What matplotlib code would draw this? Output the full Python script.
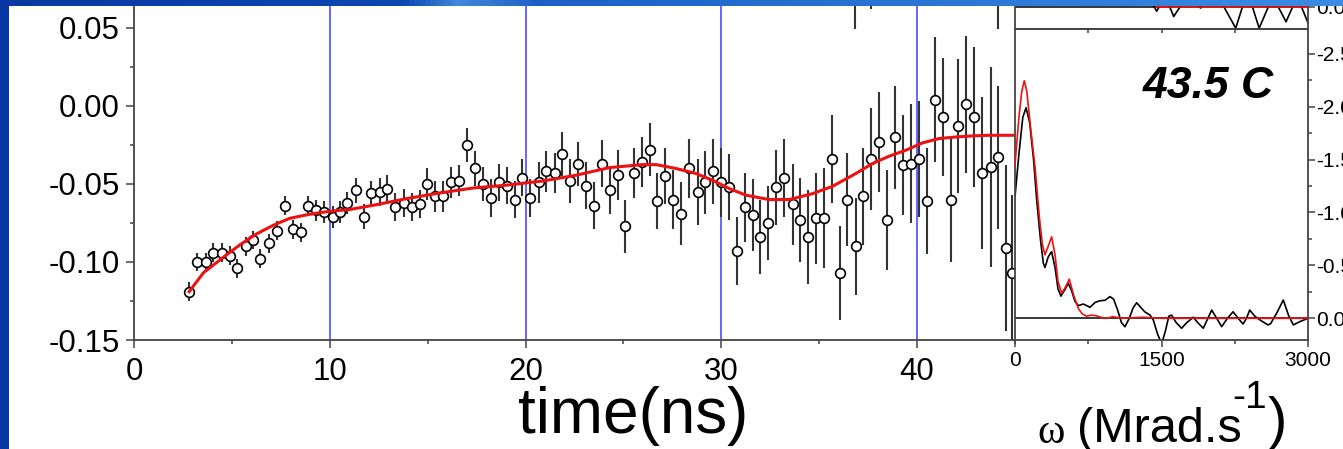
import numpy as np
import matplotlib
matplotlib.use('Agg')
import matplotlib.pyplot as plt
from matplotlib.colors import LinearSegmentedColormap
from matplotlib.ticker import MultipleLocator, FormatStrFormatter

plt.rcParams['font.family'] = ['Liberation Sans', 'DejaVu Sans']
plt.rcParams['axes.unicode_minus'] = False

# time domain data (ns) with error bars
t = [2.82, 3.20, 3.66, 4.05, 4.47, 4.90, 5.27, 5.71, 6.09, 6.46, 6.89, 7.28, 7.70, 8.10, 8.52,
     8.90, 9.32, 9.71, 10.14, 10.54, 10.88, 11.33, 11.75, 12.13, 12.55, 12.94, 13.35, 13.78, 14.18, 14.59,
     14.98, 15.39, 15.80, 16.17, 16.60, 17.02, 17.40, 17.82, 18.25, 18.64, 19.05, 19.45, 19.83, 20.24, 20.68,
     21.06, 21.48, 21.87, 22.28, 22.70, 23.09, 23.52, 23.91, 24.32, 24.71, 25.10, 25.53, 25.96, 26.36, 26.73,
     27.12, 27.52, 27.94, 28.37, 28.79, 29.18, 29.59, 29.98, 30.41, 30.80, 31.21, 31.60, 31.99, 32.40, 32.79,
     33.21, 33.64, 34.03, 34.45, 34.83, 35.26, 35.65, 36.06, 36.44, 36.87, 37.26, 37.67, 38.06, 38.48, 38.88,
     39.29, 39.68, 40.10, 40.49, 40.90, 41.33, 41.72, 42.10, 42.52, 42.91, 43.33, 43.76, 44.15, 44.56, 44.87]
signal = [-0.119, -0.100, -0.100, -0.094, -0.094, -0.096, -0.104, -0.090, -0.086, -0.098, -0.088, -0.080, -0.064, -0.079, -0.081,
          -0.064, -0.067, -0.068, -0.071, -0.068, -0.062, -0.054, -0.071, -0.056, -0.055, -0.053, -0.065, -0.062, -0.065, -0.063,
          -0.050, -0.058, -0.058, -0.049, -0.048, -0.025, -0.040, -0.050, -0.059, -0.049, -0.051, -0.060, -0.046, -0.059, -0.049,
          -0.042, -0.043, -0.031, -0.048, -0.037, -0.051, -0.064, -0.037, -0.054, -0.044, -0.077, -0.043, -0.036, -0.028, -0.061,
          -0.045, -0.060, -0.069, -0.040, -0.055, -0.049, -0.042, -0.049, -0.052, -0.093, -0.065, -0.070, -0.084, -0.075, -0.052,
          -0.046, -0.063, -0.073, -0.084, -0.072, -0.072, -0.034, -0.107, -0.060, -0.090, -0.058, -0.034, -0.023, -0.073, -0.020,
          -0.038, -0.037, -0.034, -0.061, 0.004, -0.007, -0.060, -0.013, 0.001, -0.007, -0.043, -0.039, -0.033, -0.091, -0.107]
err = [0.006, 0.006, 0.006, 0.006, 0.006, 0.006, 0.006, 0.006, 0.006, 0.006, 0.006, 0.006, 0.006, 0.006, 0.006,
       0.006, 0.007, 0.007, 0.007, 0.007, 0.007, 0.008, 0.008, 0.008, 0.009, 0.009, 0.009, 0.009, 0.009, 0.009,
       0.010, 0.010, 0.010, 0.010, 0.010, 0.011, 0.011, 0.011, 0.012, 0.012, 0.012, 0.012, 0.012, 0.012, 0.013,
       0.013, 0.013, 0.014, 0.014, 0.014, 0.015, 0.015, 0.015, 0.015, 0.016, 0.017, 0.016, 0.016, 0.017, 0.018,
       0.018, 0.019, 0.020, 0.019, 0.021, 0.020, 0.021, 0.022, 0.021, 0.022, 0.022, 0.023, 0.024, 0.024, 0.024,
       0.025, 0.026, 0.027, 0.030, 0.029, 0.032, 0.028, 0.030, 0.030, 0.031, 0.031, 0.033, 0.032, 0.032, 0.033,
       0.032, 0.038, 0.037, 0.034, 0.040, 0.038, 0.040, 0.043, 0.044, 0.045, 0.049, 0.064, 0.046, 0.053, 0.050]

# fit curve
fit_t = [2.82, 3.54, 4.56, 5.41, 6.26, 7.11, 7.96, 8.98, 10.0, 11.0, 12.21, 13.92, 15.61, 17.31, 19.0,
         20.88, 22.58, 24.29, 25.99, 26.67, 27.69, 28.7, 29.55, 30.41, 31.26, 32.45, 33.47, 34.66, 35.68,
         36.87, 37.72, 38.57, 39.42, 40.27, 41.12, 41.97, 42.82, 43.67, 45.0]
fit_y = [-0.119, -0.107, -0.097, -0.089, -0.082, -0.0765, -0.072, -0.0694, -0.0675, -0.0664, -0.0637, -0.0594,
         -0.0558, -0.0526, -0.0508, -0.0481, -0.0444, -0.0395, -0.0376, -0.0376, -0.0401, -0.0433, -0.0476,
         -0.053, -0.0572, -0.060, -0.060, -0.0562, -0.0515, -0.0433, -0.0369, -0.0322, -0.0284, -0.0237,
         -0.0209, -0.0199, -0.0192, -0.0188, -0.0188]

# error bars of the panel above that reach into this one
top_t = [36.84, 37.65, 44.13]
top_lo = [0.049, 0.062, 0.049]

# spectrum (inset), omega in Mrad/s
w_data = [0, 40, 80, 113, 150, 190, 222, 260, 290, 307, 340, 375, 410, 440, 470, 510, 546, 580, 614, 650,
          700, 768, 820, 870, 920, 973, 1010, 1050, 1090, 1126, 1170, 1210, 1246, 1290, 1330, 1382, 1416,
          1460, 1502, 1540, 1575, 1604, 1650, 1706, 1760, 1826, 1870, 1928, 1970, 2014, 2065, 2116, 2175,
          2233, 2285, 2335, 2370, 2403, 2455, 2509, 2550, 2591, 2618, 2680, 2747, 2800, 2850, 2920, 3000]
s_data = [-1.15, -1.55, -1.9, -1.99, -1.85, -1.5, -1.12, -0.75, -0.52, -0.48, -0.58, -0.63, -0.48, -0.28,
          -0.21, -0.27, -0.33, -0.26, -0.16, -0.12, -0.135, -0.104, -0.15, -0.166, -0.17, -0.205, -0.18,
          -0.08, 0.04, 0.08, 0.0, -0.1, -0.147, -0.10, -0.06, -0.031, 0.016, 0.15, 0.24, 0.12, -0.02, -0.03,
          0.04, 0.094, 0.04, -0.01, 0.04, 0.094, 0.01, -0.078, 0.0, 0.079, 0.0, -0.062, 0.0, 0.054, 0.0,
          -0.078, -0.02, 0.016, 0.04, 0.063, 0.05, -0.05, -0.173, -0.03, 0.063, 0.03, 0.0]
w_fit = [0, 40, 70, 95, 120, 160, 205, 250, 280, 307, 340, 375, 410, 440, 478, 520, 556, 600, 648, 690,
         734, 780, 830, 880, 939, 1000, 1100, 1300, 1500, 3000]
s_fit = [-1.45, -1.9, -2.15, -2.245, -2.15, -1.8, -1.43, -0.95, -0.7, -0.6, -0.68, -0.77, -0.6, -0.35,
         -0.236, -0.3, -0.37, -0.22, -0.094, -0.04, -0.02, -0.03, -0.025, -0.01, 0.0, -0.015, 0.0, -0.01,
         0.0, 0.0]

# bottom of the spectrum of the panel above
w_up = [1300, 1400, 1450, 1540, 1625, 1760, 1900, 2050, 2260, 2380, 2500, 2640, 2775, 2890, 3000]
s_up = [-0.1, -0.05, 0.04, -0.1, 0.09, -0.1, 0.01, -0.15, 0.2, -0.15, 0.2, -0.1, 0.14, -0.1, 0.15]

W, H = 1343, 449
fig = plt.figure(figsize=(W / 100, H / 100), dpi=100)
fig.patch.set_facecolor('white')


def box(x0, x1, y_top, y_bot):
    return [x0 / W, 1 - y_bot / H, (x1 - x0) / W, (y_bot - y_top) / H]


spine_c = '#444444'

# main time plot
ax = fig.add_axes(box(134, 1015, 0, 340))
for v in [10, 20, 30, 40]:
    ax.axvline(v, color='#5a5aff', lw=1.3, zorder=1)
ax.errorbar(t, signal, yerr=err, fmt='o', ms=7, mfc='white', mec='black', mew=1.2,
            ecolor='#333333', elinewidth=1.5, capsize=0, zorder=3)
ax.vlines(top_t, top_lo, 0.2, color='#333333', lw=1.5, zorder=3)
ax.plot(fit_t, fit_y, color='#ee1111', lw=2.2, zorder=4)
ax.set_xlim(0, 45)
ax.set_ylim(-0.15, 0.0679)
ax.xaxis.set_major_locator(MultipleLocator(10))
ax.xaxis.set_minor_locator(MultipleLocator(5))
ax.yaxis.set_major_locator(MultipleLocator(0.05))
ax.yaxis.set_minor_locator(MultipleLocator(0.025))
ax.yaxis.set_major_formatter(FormatStrFormatter('%.2f'))
ax.spines['top'].set_visible(False)
ax.spines['right'].set_visible(False)
for s in ['left', 'bottom']:
    ax.spines[s].set_color(spine_c)
    ax.spines[s].set_linewidth(1.3)
ax.tick_params(which='major', direction='out', length=6, width=1.1, color=spine_c, labelsize=22.5)
ax.tick_params(which='minor', direction='out', length=3, width=1.1, color=spine_c)
ax.tick_params(axis='x', pad=6)
ax.tick_params(axis='y', pad=4)

# spectrum inset
ax2 = fig.add_axes(box(1015, 1308, 29, 340))
ax2.axhline(0, color='black', lw=1.1, zorder=1)
ax2.plot(w_data, s_data, color='black', lw=1.2, zorder=2)
ax2.plot(w_fit, s_fit, color='#ee1111', lw=1.2, zorder=3)
ax2.set_xlim(0, 3000)
ax2.set_ylim(0.205, -2.734)
ax2.xaxis.set_major_locator(MultipleLocator(1500))
ax2.xaxis.set_minor_locator(MultipleLocator(750))
ax2.yaxis.set_major_locator(MultipleLocator(0.5))
ax2.yaxis.set_minor_locator(MultipleLocator(0.25))
ax2.yaxis.set_major_formatter(FormatStrFormatter('%.1f'))
ax2.yaxis.tick_right()
for s in ax2.spines.values():
    s.set_color(spine_c)
    s.set_linewidth(1.3)
ax2.tick_params(which='major', direction='out', length=5, width=1.1, color=spine_c, labelsize=15)
ax2.tick_params(which='minor', direction='out', length=3, width=1.1, color=spine_c)
ax2.tick_params(axis='x', pad=3)
ax2.tick_params(axis='y', pad=1)
ax2.text(0.66, 0.815, '43.5 C', transform=ax2.transAxes, ha='center', va='center',
         fontsize=32, fontweight='bold', fontstyle='italic')

# spectrum of the panel above (mostly cut off)
ax3 = fig.add_axes(box(1015, 1308, -80, 29))
ax3.patch.set_alpha(0)
ax3.axhline(0, color='black', lw=1.1, zorder=1)
ax3.plot(w_up, s_up, color='black', lw=1.2, zorder=2)
ax3.axhline(0, xmin=0.48, color='#ee1111', lw=1.2, zorder=3)
ax3.set_xlim(0, 3000)
ax3.set_ylim(0.208, -0.822)
ax3.set_xticks([750, 1500, 2250])
ax3.tick_params(axis='x', direction='out', length=3, width=1.1, color=spine_c, labelbottom=False)
ax3.yaxis.tick_right()
ax3.set_yticks([0.0])
ax3.yaxis.set_major_formatter(FormatStrFormatter('%.1f'))
for s in ax3.spines.values():
    s.set_color(spine_c)
    s.set_linewidth(1.3)
ax3.tick_params(axis='y', direction='out', length=5, width=1.1, color=spine_c, labelsize=15, pad=1)

# axis titles
fig.text(633 / W, 1 - 433 / H, 'time(ns)', ha='center', va='baseline', fontsize=46)
fig.text(1037 / W, 1 - 443 / H, '\u03c9', ha='left', va='baseline', fontsize=30,
         family=['Liberation Serif', 'DejaVu Serif'])
fig.text(1077 / W, 1 - 442 / H, '(Mrad.s', ha='left', va='baseline', fontsize=35)
fig.text(1232 / W, 1 - 408 / H, '-1', ha='left', va='baseline', fontsize=28)
fig.text(1268 / W, 1 - 438 / H, ')', ha='left', va='baseline', fontsize=42)

# slide background strips
grad = LinearSegmentedColormap.from_list('band', [(0, '#0b39a3'), (0.3, '#0e46b2'), (0.34, '#4288dc'),
                                                   (0.4, '#1d60c6'), (0.7, '#2a76d6'), (1.0, '#3b8ce2')])
band = fig.add_axes([0, 1 - 6 / H, 1, 6 / H], zorder=20)
band.imshow(np.linspace(0, 1, 256).reshape(1, -1), cmap=grad, aspect='auto')
band.axis('off')
side = fig.add_axes([0, 0, 9 / W, 1], zorder=20)
side.set_facecolor('#0736a5')
side.set_xticks([])
side.set_yticks([])
for s in side.spines.values():
    s.set_visible(False)

fig.savefig('out.png', dpi=100)
